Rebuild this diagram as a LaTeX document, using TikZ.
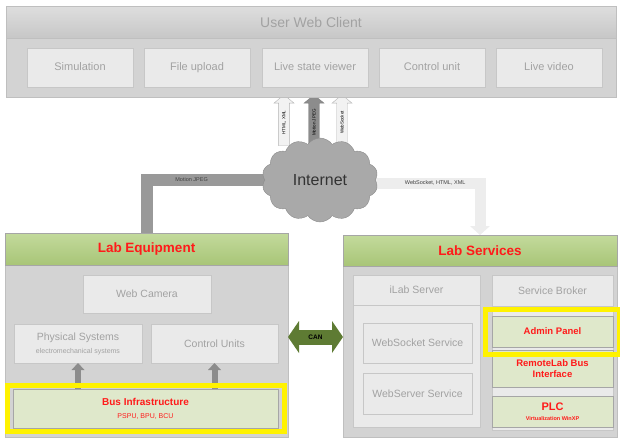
\documentclass[tikz,border=0pt]{standalone}
\usepackage{fontspec}
\setmainfont{Liberation Sans}
\usetikzlibrary{shapes.symbols,shapes.arrows,arrows.meta,shadows,fit,backgrounds}

\definecolor{txtc}{HTML}{A2A2A2}
\definecolor{boxc}{HTML}{EAEAEA}
\definecolor{bodyc}{HTML}{D3D3D3}
\definecolor{labred}{HTML}{FF1A1A}
\definecolor{gtop}{HTML}{C3DA9C}
\definecolor{gbot}{HTML}{A8C577}
\definecolor{lgreen}{HTML}{DFE8CB}
\definecolor{cangreen}{HTML}{5E7B33}
\definecolor{cloudc}{HTML}{A9A9A9}

\tikzset{
  gbox/.style={draw=black!22,fill=boxc,text=txtc,inner sep=0pt,outer sep=0pt,align=center,
    drop shadow={shadow xshift=1pt,shadow yshift=-1pt,opacity=.3,fill=black!60}},
  tbox/.style={gbox,minimum width=106pt,minimum height=39pt,text height=8pt,text depth=2pt,font=\fontsize{11}{13}\selectfont},
  ghead/.style={draw=black!25,top color=black!13,bottom color=black!22,text=txtc,inner sep=0pt,outer sep=0pt},
  body/.style={draw=black!25,fill=bodyc,inner sep=0pt,outer sep=0pt},
  lhead/.style={draw=black!35,top color=gtop,bottom color=gbot,text=labred,inner sep=0pt,outer sep=0pt,
    font=\fontsize{13.5}{16}\selectfont\bfseries},
  lgbox/.style={draw=black!35,fill=lgreen,text=labred,inner sep=0pt,outer sep=0pt,align=center,
    font=\fontsize{9.5}{11}\selectfont\bfseries},
  yframe/.style={draw=yellow,line width=5pt,inner sep=0pt},
  uparr/.style={single arrow,rotate=90,draw=black!30,fill=black!5,inner sep=1.5pt,
    minimum height=51pt,minimum width=20pt,single arrow head extend=3pt,single arrow tip angle=100,
    font=\fontsize{4.5}{5}\selectfont},
  smarr/.style={line width=6pt,draw=black!45,-{Triangle[length=7pt,width=13pt,line width=0pt]}},
}

\begin{document}
\begin{tikzpicture}[x=1pt,y=-1pt,font=\fontsize{10.5}{12}\selectfont]
  \useasboundingbox (0,0) rectangle (620,439);

  % user web client
  \node[ghead,minimum width=610pt,minimum height=32pt,font=\fontsize{14}{16}\selectfont] (uwc) at (311,22) {User Web Client};
  \node[body,minimum width=610pt,minimum height=59pt] (uwcbody) at (311,67.5) {};
  \node[tbox] (sim) at (80,67.5) {Simulation};
  \node[tbox] (upl) at (197,67.5) {File upload};
  \node[tbox] (lsv) at (315,67.5) {Live state viewer};
  \node[tbox] (ctl) at (432,67.5) {Control unit};
  \node[tbox] (vid) at (549,67.5) {Live video};

  % lab equipment
  \node[body,minimum width=283pt,minimum height=172pt] (leqbody) at (146.5,351) {};
  \node[lhead,minimum width=283pt,minimum height=32pt] (leqhead) at (146.5,249) {Lab Equipment};
  \node[gbox,minimum width=128pt,minimum height=38pt] (cam) at (147,294) {Web Camera};
  \node[gbox,minimum width=128pt,minimum height=39pt] (phys) at (78,343.5) {Physical Systems\\[1pt]{\fontsize{7}{8}\selectfont electromechanical systems}};
  \node[gbox,minimum width=127pt,minimum height=39pt] (cu) at (214.5,343.5) {Control Units};
  \node[lgbox,minimum width=265pt,minimum height=39pt,font=\fontsize{10}{12}\selectfont\bfseries] (bus) at (145.5,408.5) {Bus Infrastructure\\[1pt]{\fontsize{7}{8}\selectfont\mdseries PSPU, BPU, BCU}};
  \draw[smarr] (phys.south |- bus.north) -- (phys.south);
  \draw[smarr] (cu.south |- bus.north) -- (cu.south);
  \node[yframe,fit=(bus),inner xsep=6pt,inner ysep=3.5pt] (busframe) {};

  % lab services
  \node[body,minimum width=274pt,minimum height=171pt] (lsrvbody) at (480,351.5) {};
  \node[lhead,minimum width=274pt,minimum height=31pt] (lsrvhead) at (480,250.5) {Lab Services};
  \node[gbox,minimum width=127pt,minimum height=122pt] (ilabbody) at (416.5,366) {};
  \node[gbox,minimum width=127pt,minimum height=30pt] (ilab) at (416.5,290) {iLab Server};
  \node[gbox,minimum width=109pt,minimum height=40pt] (wss) at (417.5,343) {WebSocket Service};
  \node[gbox,minimum width=109pt,minimum height=41pt] (wsv) at (417.5,393.5) {WebServer Service};
  \node[gbox,minimum width=121pt,minimum height=124pt] (sbbody) at (552.5,368) {};
  \node[gbox,minimum width=121pt,minimum height=31pt] (sb) at (552.5,290.5) {Service Broker};
  \node[lgbox,minimum width=121pt,minimum height=37pt] (rlb) at (552.5,368.5) {RemoteLab Bus\\Interface};
  \node[lgbox,minimum width=121pt,minimum height=31pt] (plc) at (552.5,411.5) {{\fontsize{11}{12}\selectfont PLC}\\[-1pt]{\fontsize{5.5}{6}\selectfont Virtualization WinXP}};
  \node[lgbox,minimum width=121pt,minimum height=31pt] (adm) at (552.5,331.5) {Admin Panel};
  \node[yframe,fit=(adm),inner xsep=6.5pt,inner ysep=7pt] (admframe) {};

  % CAN
  \coordinate (can) at (315,337);
  \draw[line width=15pt,draw=cangreen,{Triangle[length=11pt,width=32pt,line width=0pt]}-{Triangle[length=11pt,width=32pt,line width=0pt]}]
    (leqbody.east |- can) -- (lsrvbody.west |- can) node[midway,text=black,font=\fontsize{6.5}{7}\selectfont\bfseries]{CAN};

  % internet
  \node[cloud,cloud puffs=14,cloud puff arc=110,aspect=1.4,draw=black!45,fill=cloudc,minimum width=116pt,minimum height=84pt,
    inner sep=0pt,text=black!80,font=\fontsize{16}{18}\selectfont] (net) at (320,180) {Internet};
  \begin{scope}[on background layer]
    \draw[line width=12pt,draw=black!40] (net.center) -| (leqhead.north) node[pos=.37,text=black!75,font=\fontsize{5.5}{6}\selectfont]{Motion JPEG};
    \draw[line width=11pt,draw=black!7,-{Triangle[length=9pt,width=20pt,line width=0pt]}] ([yshift=-3pt]net.center) -| (lsrvhead.north)
      node[pos=.36,text=black!75,font=\fontsize{5.5}{6}\selectfont]{WebSocket, HTML, XML};
    \node[uparr] (up1) at (284,122.5) {HTML, XML};
    \node[uparr,fill=black!45,draw=black!50] (up2) at (314,122.5) {Motion JPEG};
    \node[uparr] (up3) at (342,122.5) {WebSocket};
  \end{scope}
\end{tikzpicture}
\end{document}
